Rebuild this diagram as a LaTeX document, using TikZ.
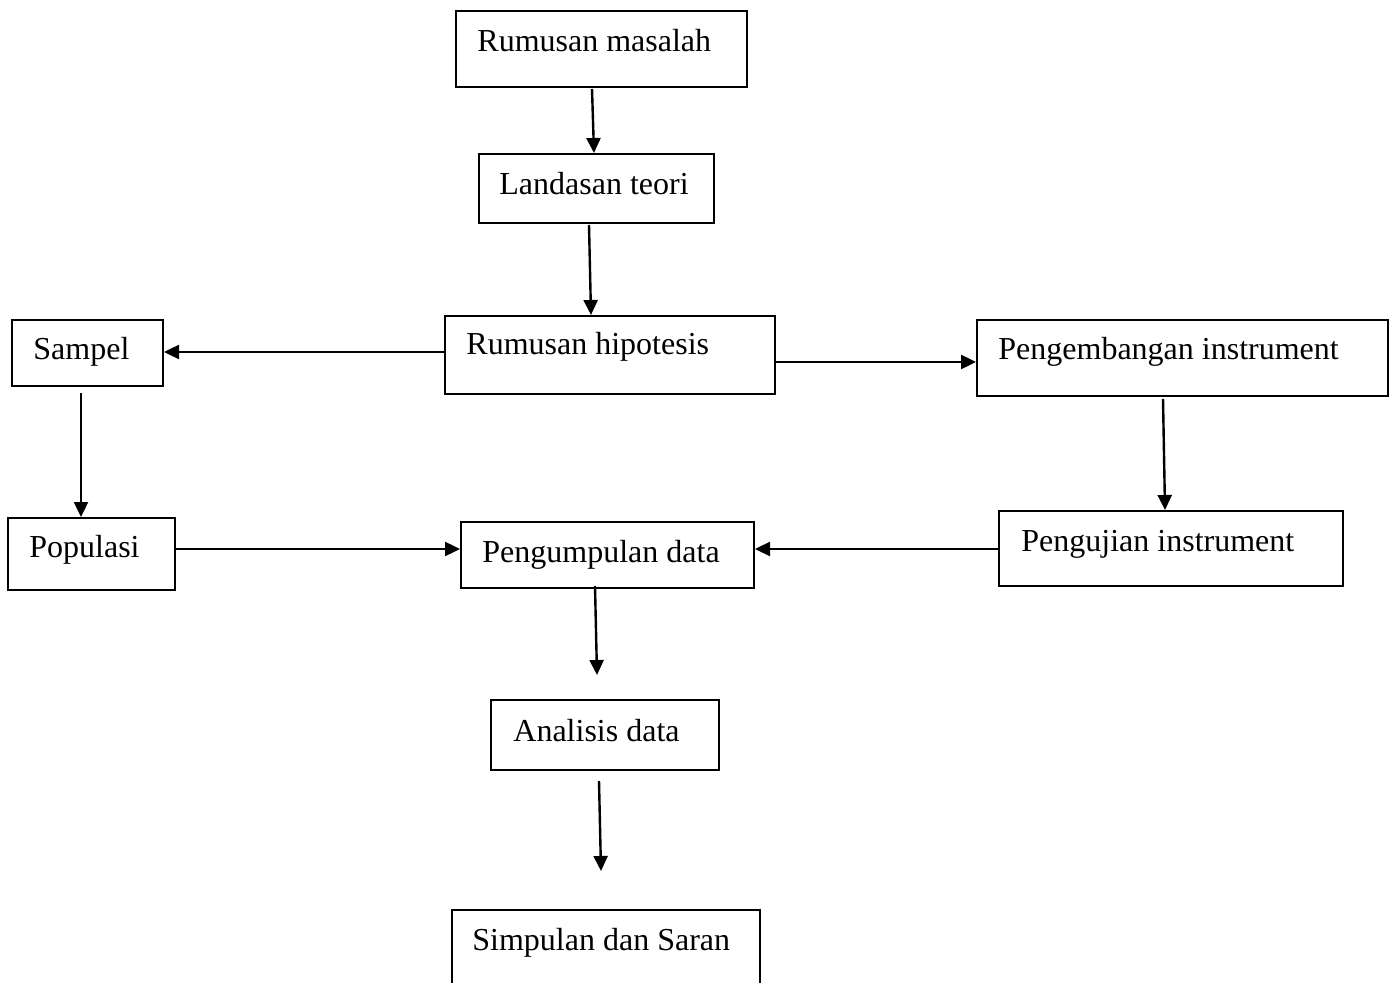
\documentclass[tikz,border=0pt]{standalone}
\usepackage{fontspec}
\setmainfont{Liberation Serif}
\usetikzlibrary{arrows.meta,calc}

\tikzset{
	kotak/.style={draw, line width=1pt, inner sep=0pt},
	ukuran/.style 2 args={minimum width=#1*0.5pt, minimum height=#2*0.5pt},
	teks/.style={anchor=base west, inner sep=0pt, font=\fontsize{16}{19}\selectfont},
	panah/.style={line width=1.2pt, -{Triangle[length=7.5pt,width=7pt]}}
}

\begin{document}
\begin{tikzpicture}[x=0.5pt,y=-0.5pt]
\useasboundingbox (0,0) rectangle (1390,983);
% kotak
\node[kotak, ukuran={291}{76}] (masalah) at (601.5,49) {};
\node[kotak, ukuran={235}{69}] (teori) at (596.5,188.5) {};
\node[kotak, ukuran={330}{78}] (hipotesis) at (610,355) {};
\node[kotak, ukuran={151}{66}] (sampel) at (87.5,353) {};
\node[kotak, ukuran={411}{76}] (pengembangan) at (1182.5,358) {};
\node[kotak, ukuran={167}{72}] (populasi) at (91.5,554) {};
\node[kotak, ukuran={293}{66}] (pengumpulan) at (607.5,555) {};
\node[kotak, ukuran={344}{75}] (pengujian) at (1171,548.5) {};
\node[kotak, ukuran={228}{70}] (analisis) at (605,735) {};
\node[kotak, ukuran={308}{100}] (simpulan) at (606,960) {};
% teks
\node[teks] (tmasalah) at (477,52) {Rumusan masalah};
\node[teks] (tteori) at (499,195) {Landasan teori};
\node[teks] (thipotesis) at (466,355) {Rumusan hipotesis};
\node[teks] (tsampel) at (33,360) {Sampel};
\node[teks] (tpengembangan) at (998,360) {Pengembangan instrument};
\node[teks] (tpopulasi) at (29,557) {Populasi};
\node[teks] (tpengumpulan) at (482,562) {Pengumpulan data};
\node[teks] (tpengujian) at (1021,551) {Pengujian instrument};
\node[teks] (tanalisis) at (513,741) {Analisis data};
\node[teks] (tsimpulan) at (472,950) {Simpulan dan Saran};
% panah
\draw[panah] ($(masalah.south)+(-9.5,1)$) -- ($(teori.north)+(-2.5,0)$);
\draw[panah] ($(teori.south)+(-7.5,1)$) -- ($(hipotesis.north)+(-19,0)$);
\draw[panah] ($(hipotesis.west)+(0,-3)$) -- ($(sampel.east)+(0,-1)$);
\draw[panah] ($(hipotesis.east)+(0,7)$) -- ($(pengembangan.west)+(0,4)$);
\draw[panah] ($(sampel.south)+(-6.5,6)$) -- ($(populasi.north)+(-10.5,0)$);
\draw[panah] ($(pengembangan.south)+(-19.5,2)$) -- ($(pengujian.north)+(-6,0)$);
\draw[panah] ($(populasi.east)+(0,-5)$) -- ($(pengumpulan.west)+(0,-6)$);
\draw[panah] ($(pengujian.west)+(0,0.5)$) -- ($(pengumpulan.east)+(0,-6)$);
\draw[panah] ($(pengumpulan.south)+(-12.5,-3)$) -- ($(analisis.north)+(-8,-24)$);
\draw[panah] ($(analisis.south)+(-6,10)$) -- ($(simpulan.north)+(-5,-38)$);
\end{tikzpicture}
\end{document}
